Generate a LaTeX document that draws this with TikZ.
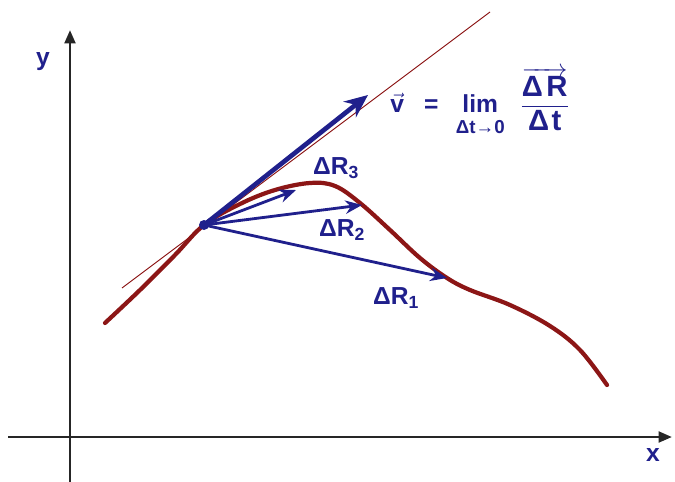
\documentclass[tikz,border=0pt]{standalone}
\usepackage{amsmath}
\usepackage{fontspec}
\setmainfont{Liberation Sans}
\usetikzlibrary{arrows.meta,positioning}
\definecolor{vecblue}{RGB}{32,32,140}
\definecolor{pathred}{RGB}{140,22,22}
\tikzset{
 axis/.style={line width=2.4pt,draw=black!85,-{Triangle[length=4mm,width=3.2mm]}},
 traj/.style={line width=3.6pt,draw=pathred,line cap=round},
 tangent/.style={line width=0.8pt,draw=pathred},
 dispvec/.style={line width=2.4pt,draw=vecblue,-{Stealth[length=5mm,width=4mm]}},
 velvec/.style={line width=4pt,draw=vecblue,-{Stealth[length=7mm,width=6mm]}},
 lbl/.style={text=vecblue,font=\fontsize{21}{24}\selectfont\bfseries,inner sep=1pt}}
\newcommand{\subidx}[1]{$_{\mbox{\fontsize{15}{16}\selectfont\bfseries #1}}$}
\newcommand{\bigtxt}[1]{\mbox{\fontsize{25}{28}\selectfont\bfseries #1}}

\begin{document}
\begin{tikzpicture}[x=0.03cm,y=-0.03cm]
\useasboundingbox (0,0) rectangle (675,482);
\coordinate (ytop) at (70,30);
\coordinate (xend) at (672,437);
\coordinate (xstart) at (8,437);
\coordinate (ybot) at (70,482);
\draw[axis] (ybot)--(ytop);
\draw[axis] (xstart)--(xend);
\node[lbl] (ylab) at (43,62) {y};
\node[lbl] (xlab) at (653,455) {x};
\coordinate (P) at (204,225);
\coordinate (T1) at (122,288);
\coordinate (T2) at (490,12);
\coordinate (V) at (368,95);
\coordinate (R1) at (447,278);
\coordinate (R2) at (362,205);
\coordinate (R3) at (296,190);
\draw[tangent] (T1)--(T2);
\draw[traj] plot[smooth,tension=0.6] coordinates {(105,323) (140,290) (175,255) (P) (240,204) (275,190) (310,183) (335,186) (360,203) (390,230) (420,258) (R1) (470,290) (510,305) (550,326) (580,350) (607,385)};
\draw[velvec] (P)--(V);
\draw[dispvec] (P)--(R3);
\draw[dispvec] (P)--(R2);
\draw[dispvec] (P)--(R1);
\fill[vecblue] (P) circle (5);
\node[lbl] (r3lab) at (336,168) {ΔR\subidx{3}};
\node[lbl] (r2lab) at (342,230) {ΔR\subidx{2}};
\node[lbl] (r1lab) at (396,298) {ΔR\subidx{1}};
\node[lbl,anchor=base west] (vlab) at (389,113) {$\vec{\mbox{\bfseries v}}\hspace{0.6cm}\mbox{\bfseries =}\hspace{0.4cm}\mathop{\mbox{\bfseries lim}}\limits_{\raisebox{-5pt}{\fontsize{16}{17}\selectfont\bfseries Δt→0}}\hspace{0.35cm}\dfrac{\overrightarrow{\bigtxt{Δ\hspace{3pt}R}}}{\bigtxt{Δ\hspace{2pt}t}\rule[-6pt]{0pt}{6pt}}$};
\end{tikzpicture}
\end{document}
